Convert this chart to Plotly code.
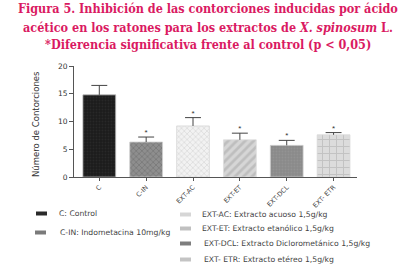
import plotly.graph_objects as go

# ---- data ----
categories = ["C", "C-IN", "EXT-AC", "EXT-ET", "EXT-DCL", "EXT- ETR"]
means = [14.8, 6.3, 9.2, 6.7, 5.7, 7.6]
upper = [16.5, 7.2, 10.7, 7.9, 6.6, 8.0]
significant = [False, True, True, True, True, True]
legend_labels = [
    "C: Control",
    "C-IN: Indometacina 10mg/kg",
    "EXT-AC: Extracto acuoso 1,5g/kg",
    "EXT-ET: Extracto etanólico 1,5g/kg",
    "EXT-DCL: Extracto Diclorometánico 1,5g/kg",
    "EXT- ETR: Extracto etéreo 1,5g/kg",
]
y_ticks = [0, 5, 10, 15, 20]

# ---- styles ----
styles = [
    dict(color="#1c1c1c", pattern=dict(shape=".", fgcolor="#333333", size=3, solidity=0.3), line="#bdbdbd", sw="#2a2a2a"),
    dict(color="#8e8e8e", pattern=dict(shape="x", fgcolor="#666666", size=4, solidity=0.4), line="#cfcfcf", sw="#7a7a7a"),
    dict(color="#f2f2f2", pattern=dict(shape="x", fgcolor="#bdbdbd", size=4, solidity=0.3), line="#d8d8d8", sw="#d6d6d6"),
    dict(color="#d6d6d6", pattern=dict(shape="/", fgcolor="#a5a5a5", size=6, solidity=0.45), line="#dddddd", sw="#c0c0c0"),
    dict(color="#8a8a8a", pattern=dict(shape=".", fgcolor="#9c9c9c", size=3, solidity=0.3), line="#d0d0d0", sw="#7e7e7e"),
    dict(color="#dcdcdc", pattern=dict(shape="+", fgcolor="#a8a8a8", size=7, solidity=0.25), line="#d8d8d8", sw="#c4c4c4"),
]

W, H = 415, 268
ML, MR, MT, MB = 74, 58, 66, 91
PW, PH = W - ML - MR, H - MT - MB


def px(x):
    return (x - ML) / PW


def py(y):
    return (H - MB - y) / PH


fig = go.Figure()

for i, cat in enumerate(categories):
    s = styles[i]
    fig.add_trace(go.Bar(
        x=[i], y=[means[i]], width=0.7, showlegend=False,
        marker=dict(color=s["color"], pattern=s["pattern"],
                    line=dict(color=s["line"], width=0.8)),
    ))

# error bars (upper only)
ex, ey = [], []
cap = 0.17
for i in range(len(categories)):
    ex += [i, i, None, i - cap, i + cap, None]
    ey += [means[i], upper[i], None, upper[i], upper[i], None]
fig.add_trace(go.Scatter(x=ex, y=ey, mode="lines", showlegend=False,
                         line=dict(color="#444444", width=1), hoverinfo="skip"))

# significance stars
sx = [i for i in range(len(categories)) if significant[i]]
sy = [upper[i] for i in range(len(categories)) if significant[i]]
fig.add_trace(go.Scatter(x=sx, y=sy, mode="text", text=["*"] * len(sx),
                         textposition="top center", showlegend=False,
                         textfont=dict(size=8, color="#333333", family="Liberation Sans")))

fig.update_xaxes(
    range=[-0.54, 5.5], tickmode="array", tickvals=list(range(len(categories))),
    ticktext=categories, tickangle=-45, ticks="outside", ticklen=3,
    tickcolor="#555555", showline=True, linecolor="#555555", linewidth=1,
    tickfont=dict(size=6.5, color="#444444", family="DejaVu Sans"),
    showgrid=False, zeroline=False, fixedrange=True,
)
fig.update_yaxes(
    range=[0, 20], tickvals=y_ticks, ticks="outside", ticklen=4,
    tickcolor="#555555", showline=True, linecolor="#555555", linewidth=1,
    tickfont=dict(size=7.5, color="#333333", family="DejaVu Sans"),
    showgrid=False, zeroline=False,
)

title_color = "#DA1A62"
title_lines = [
    "<b>Figura 5. Inhibición de las contorciones inducidas por ácido</b>",
    "<b>acético en los ratones para los extractos de <i>X. spinosum</i> L.</b>",
    "<b>*Diferencia significativa frente al control (p &lt; 0,05)</b>",
]
title_y = [9, 27, 45]
annotations = []
for t, yy in zip(title_lines, title_y):
    annotations.append(dict(
        text=t, x=px(W / 2), y=py(yy), xref="paper", yref="paper",
        xanchor="center", yanchor="middle", showarrow=False,
        font=dict(size=12.5, color=title_color, family="DejaVu Serif Condensed, DejaVu Serif"),
    ))

annotations.append(dict(
    text="Número de Contorciones", x=px(36), y=py(124), xref="paper", yref="paper",
    textangle=-90, showarrow=False, xanchor="center", yanchor="middle",
    font=dict(size=8.5, color="#333333", family="DejaVu Sans"),
))

# legend (manual, two columns)
leg_pos = [
    (36, 213.5, 57),
    (35, 232.5, 58),
    (180, 214.5, 200),
    (180, 228.5, 200),
    (180, 243.5, 201.5),
    (180, 259.5, 201.5),
]
shapes = []
for i, (sx0, yc, tx) in enumerate(leg_pos):
    shapes.append(dict(
        type="rect", xref="paper", yref="paper",
        x0=px(sx0), x1=px(sx0 + 11), y0=py(yc + 2), y1=py(yc - 2),
        fillcolor=styles[i]["sw"], line=dict(width=0),
    ))
    annotations.append(dict(
        text=legend_labels[i], x=px(tx), y=py(yc), xref="paper", yref="paper",
        xanchor="left", yanchor="middle", showarrow=False,
        font=dict(size=7.7, color="#444444", family="DejaVu Sans"),
    ))

fig.update_layout(
    width=W, height=H, barmode="overlay",
    margin=dict(l=ML, r=MR, t=MT, b=MB, autoexpand=False),
    paper_bgcolor="white", plot_bgcolor="white",
    annotations=annotations, shapes=shapes, showlegend=False,
)

fig.write_html(
    "out.html",
    config={"displayModeBar": False},
    post_script="document.body.style.margin='0';document.body.style.overflow='hidden';",
)
